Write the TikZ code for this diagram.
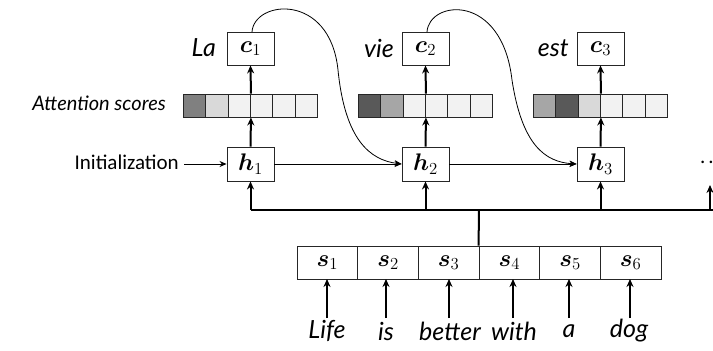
\RequirePackage{fix-cm}
\documentclass[tikz,border=0pt]{standalone}
\usepackage{amsmath}
\usepackage{bm}
\usepackage{fontspec}
\newfontfamily\calib{Carlito}
\newfontfamily\handf{Lato}
\usetikzlibrary{arrows.meta}
\definecolor{gA}{HTML}{808080}
\definecolor{gB}{HTML}{D9D9D9}
\definecolor{gC}{HTML}{F2F2F2}
\definecolor{gD}{HTML}{595959}
\definecolor{gE}{HTML}{A6A6A6}
\begin{document}
\begin{tikzpicture}[x=1pt,y=-1pt,
  vecbox/.style={draw=black!85,line width=0.9pt,minimum width=47pt,minimum height=33pt,inner sep=0pt,fill=white,font=\fontsize{24}{24}\selectfont},
  cell/.style={draw=black!85,line width=0.9pt,minimum width=22.33pt,minimum height=23pt,inner sep=0pt},
  scell/.style={draw=black!85,line width=0.9pt,minimum width=60.67pt,minimum height=33pt,inner sep=0pt,font=\fontsize{24}{24}\selectfont},
  hand/.style={font=\handf\itshape\fontsize{25}{25}\selectfont,inner sep=0pt},
  thin/.style={line width=0.8pt,-{Stealth[length=7pt,width=6pt]}},
  thick/.style={line width=2pt,-{Stealth[length=8pt,width=7pt]}},
  bus/.style={line width=2pt}]
\useasboundingbox (0,0) rectangle (713,351);
% attention bars
\foreach \cx/\a/\b/\c/\d/\e/\f/\n in {250.5/gA/gB/gC/gC/gC/gC/1, 425.5/gD/gE/gC/gC/gC/gC/2, 600.5/gE/gD/gB/gC/gC/gC/3}{
  \foreach \i/\col in {1/\a,2/\b,3/\c,4/\d,5/\e,6/\f}{
    \node[cell,fill=\col] (a\n\i) at ({\cx+(\i-3.5)*22.33},105.5) {};
  }
}
% boxes
\node[vecbox] (c1) at (250.5,48.5) {$\bm{c}_1$};
\node[vecbox] (c2) at (425.5,48.5) {$\bm{c}_2$};
\node[vecbox] (c3) at (600.5,48.5) {$\bm{c}_3$};
\node[vecbox,minimum height=34pt] (h1) at (250.5,164) {$\bm{h}_1$};
\node[vecbox,minimum height=34pt] (h2) at (425.5,164) {$\bm{h}_2$};
\node[vecbox,minimum height=34pt] (h3) at (600.5,164) {$\bm{h}_3$};
% labels
\node[hand,anchor=east] (la) at (216,48) {La};
\node[hand,anchor=east] (vie) at (394,48) {vie};
\node[hand,anchor=east] (est) at (569,48) {est};
\node[hand,anchor=east,font=\handf\itshape\fontsize{20}{20}\selectfont] (att) at (166,103) {Attention scores};
\node[anchor=east,inner sep=0pt,font=\calib\fontsize{21}{21}\selectfont] (init) at (179,162) {Initialization};
\node[inner sep=0pt,anchor=west,font=\calib\fontsize{21}{21}\selectfont] (dots) at (700,162) {.\kern3pt.};
% source cells
\foreach \i in {1,...,6}{
  \node[scell] (s\i) at ({297+(\i-0.5)*60.67},262.5) {$\bm{s}_\i$};
}
% words
\node[hand] (w1) at (327,331) {Life};
\node[hand] (w2) at (386,331) {is};
\node[hand] (w3) at (450,331) {better};
\node[hand] (w4) at (514,331) {with};
\node[hand] (w5) at (569,331) {a};
\node[hand] (w6) at (629,331) {dog};
\foreach \i/\x in {1/327,2/386,3/449,4/513,5/569,6/630}{
  \draw[thick] (\x,318) -- (\x,279);
}
% vertical thick arrows
\foreach \n in {1,2,3}{
  \draw[thick] (h\n.north) -- (a\n3.south east);
  \draw[thick] (a\n3.north east) -- (c\n.south);
}
% bus
\coordinate (stem) at (s4.north west);
\coordinate (busm) at (479,210);
\coordinate (busr) at (710,210);
\coordinate (busl) at (h1.south |- busm);
\draw[bus] (stem) -- (busm);
\draw[bus] (h1.south |- busm) -- (713,210);
\draw[thick] (busl) -- (h1.south);
\draw[thick] (h2.south |- busm) -- (h2.south);
\draw[thick] (h3.south |- busm) -- (h3.south);
\draw[thick] (busr) -- (710,185);
% horizontal
\coordinate (ie) at (184,164);
\draw[thin] (ie) -- (h1.west);
\draw[thin] (h1.east) -- (h2.west);
\draw[thin] (h2.east) -- (h3.west);
% curves
\draw[thin] (252,32) .. controls (254,0) and (330,-8) .. (338,70)
  .. controls (345,140) and (370,160) .. (h2.west);
\draw[thin] (427,32) .. controls (429,0) and (502,-8) .. (512,80)
  .. controls (522,145) and (545,162) .. (h3.west);
\end{tikzpicture}
\end{document}
